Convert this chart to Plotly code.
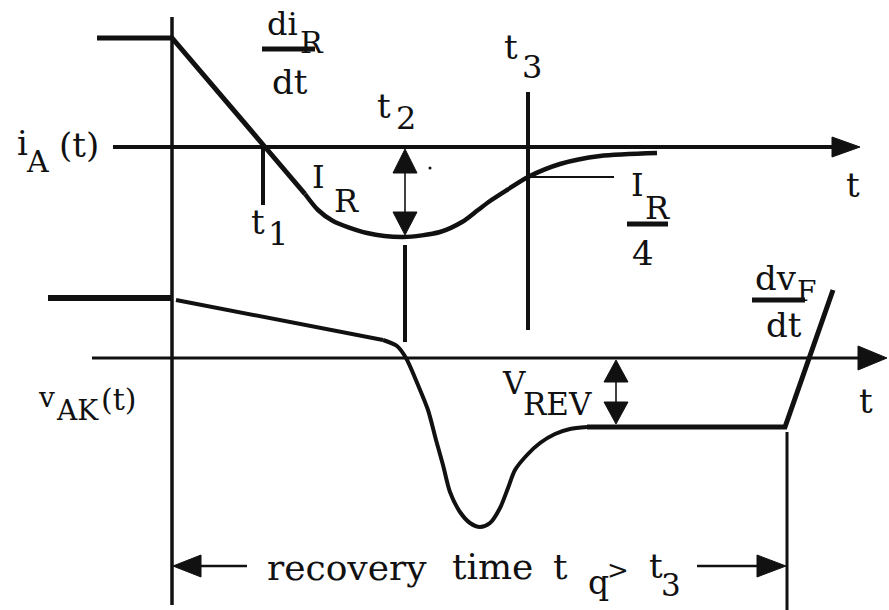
import plotly.graph_objects as go

# ---------------- data (diagram units: x = time position, y = level, downward) ----------------
# anode current i_A(t)
ia_lin_t = [97, 172, 265, 305]
ia_lin_v = [38, 38, 147, 194]
ia_curve_t = [305, 318, 333, 367, 403, 440, 462, 478, 490, 507, 528, 560, 600, 657]
ia_curve_v = [194, 210, 221, 233, 237, 232, 222, 210, 201, 190, 177, 164, 156, 153]

# anode-cathode voltage v_AK(t)
vak_flat_t = [48, 172]
vak_flat_v = [298, 298]
vak_slope_t = [176, 383]
vak_slope_v = [300, 340]
vak_curve_t = [383, 397, 406, 418, 428, 436, 443, 450, 460, 470, 480, 490, 500, 508, 515, 527, 540, 555, 570, 587]
vak_curve_v = [340, 346, 358, 385, 410, 440, 465, 492, 512, 523, 527, 523, 508, 488, 470, 455, 443, 434, 429, 427]
vak_end_t = [587, 785, 833]
vak_end_v = [427, 427, 290]

# axis levels and time markers
ia_axis_level = 147
vak_axis_level = 358
t0, t1, t2, t3, tq = 172, 263, 405, 528, 787
i_min = 237
i_quarter = 177
v_rev_level = 427
v_rev_x = 616
recovery_y = 566

# text labels: (text, x, y, size)
labels = [
    ("di", 282, 24, 32), ("R", 312, 42, 30), ("dt", 290, 82, 34),
    ("i", 22, 143, 34), ("A", 37, 161, 30), ("(t)", 79, 145, 34),
    ("t", 258, 222, 34), ("1", 278, 234, 32),
    ("I", 318, 177, 32), ("R", 346, 201, 32),
    ("t", 384, 106, 34), ("2", 406, 118, 32),
    ("t", 511, 47, 34), ("3", 532, 67, 32),
    ("t", 853, 185, 34),
    ("I", 637, 185, 32), ("R", 657, 208, 32), ("4", 643, 253, 34),
    ("dv", 776, 278, 34), ("F", 806, 291, 28), ("dt", 784, 325, 34),
    ("v", 46, 397, 28), ("AK", 77, 410, 28), ("(t)", 118, 399, 30),
    ("V", 514, 383, 31), ("REV", 557, 404, 31),
    ("t", 866, 401, 34),
    ("recovery", 347, 567, 36), ("time", 492, 566, 36), ("t", 560, 566, 36),
    ("q", 598, 582, 33), (">", 618, 570, 26), ("t", 656, 566, 34), ("3", 671, 585, 31),
]

INK = "#111111"
FONT = "DejaVu Serif"

fig = go.Figure()


def line(xs, ys, w, shape="linear"):
    fig.add_trace(go.Scatter(x=xs, y=ys, mode="lines",
                             line=dict(color=INK, width=w, shape=shape, smoothing=0.8),
                             hoverinfo="skip"))


def head(tx, ty, direction, length, hw):
    # filled triangular arrowhead with tip at (tx, ty)
    if direction == "right":
        xs = [tx, tx - length, tx - length, tx]
        ys = [ty, ty - hw, ty + hw, ty]
    elif direction == "left":
        xs = [tx, tx + length, tx + length, tx]
        ys = [ty, ty - hw, ty + hw, ty]
    elif direction == "up":
        xs = [tx, tx - hw, tx + hw, tx]
        ys = [ty, ty + length, ty + length, ty]
    else:
        xs = [tx, tx - hw, tx + hw, tx]
        ys = [ty, ty - length, ty - length, ty]
    fig.add_trace(go.Scatter(x=xs, y=ys, mode="lines", fill="toself",
                             fillcolor=INK, line=dict(color=INK, width=1),
                             hoverinfo="skip"))


# axes
line([113, 840], [ia_axis_level] * 2, 4)
head(860, ia_axis_level, "right", 28, 10)
line([92, 862], [vak_axis_level] * 2, 3)
head(887, vak_axis_level, "right", 29, 12)
line([t0, t0], [17, 605], 3.5)

# markers
line([t1, t1], [ia_axis_level, 205], 4)
line([t2, t2], [245, 342], 4)
line([t3, t3], [92, 330], 4)
line([tq, tq], [432, 610], 3)
line([t3 + 2, 614], [i_quarter, i_quarter], 2)

# I_R double arrow
line([t2, t2], [165, 220], 1.6)
head(t2, ia_axis_level + 2, "up", 24, 12)
head(t2, i_min - 2, "down", 23, 12)

# V_REV double arrow
line([v_rev_x, v_rev_x], [375, 410], 1.6)
head(v_rev_x, vak_axis_level + 2, "up", 22, 12)
head(v_rev_x, v_rev_level - 3, "down", 22, 12)

# recovery time arrows
line([195, 247], [recovery_y] * 2, 2.5)
head(t0 + 1, recovery_y, "left", 28, 11)
line([697, 762], [recovery_y] * 2, 2.5)
head(tq - 1, recovery_y, "right", 29, 11)

# fraction bars
line([262, 315], [49, 49], 5)
line([627, 668], [224, 224], 5)
line([752, 805], [300, 300], 5)

# waveforms
line(ia_lin_t, ia_lin_v, 5)
line(ia_curve_t, ia_curve_v, 4.5, "spline")
line(vak_flat_t, vak_flat_v, 6)
line(vak_slope_t, vak_slope_v, 4)
line(vak_curve_t, vak_curve_v, 4, "spline")
line(vak_end_t, vak_end_v, 5)

# speck
fig.add_trace(go.Scatter(x=[430], y=[168], mode="markers",
                         marker=dict(color=INK, size=3), hoverinfo="skip"))

for txt, x, y, s in labels:
    fig.add_annotation(x=x, y=y, text=txt, showarrow=False, xanchor="center",
                       yanchor="middle", font=dict(family=FONT, size=s, color=INK))

fig.update_layout(
    width=889, height=610, margin=dict(l=0, r=0, t=0, b=0),
    paper_bgcolor="white", plot_bgcolor="white", showlegend=False,
    xaxis=dict(range=[0, 889], visible=False, fixedrange=True),
    yaxis=dict(range=[610, 0], visible=False, fixedrange=True),
)

# remove the default 8px page margin so the figure fills the window exactly
fig.write_html("out.html", config={"displayModeBar": False},
               post_script="document.body.style.margin='0';document.body.style.overflow='hidden';")
